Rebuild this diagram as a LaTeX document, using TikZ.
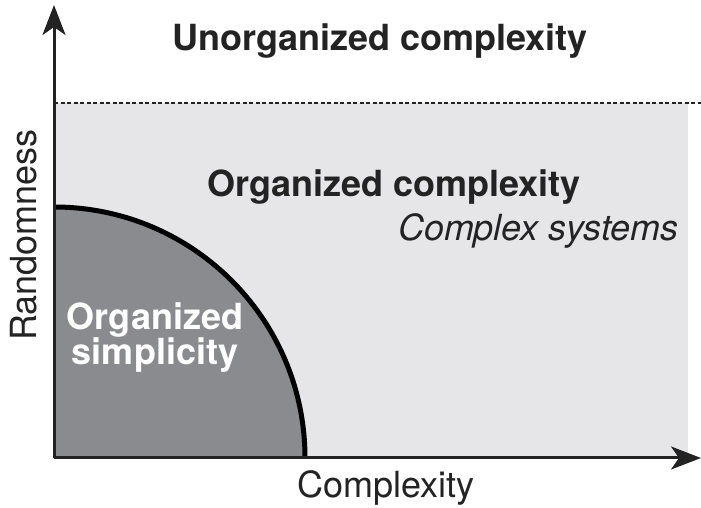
\documentclass[tikz,border=0pt]{standalone}
\usepackage{fontspec}
\setmainfont{TeX Gyre Heros}
\usepackage{xcolor}
\usetikzlibrary{arrows.meta}
\definecolor{lightregion}{HTML}{E6E6E8}
\definecolor{darkregion}{HTML}{8A8B8E}
\definecolor{inkgrey}{HTML}{232323}

\begin{document}
\begin{tikzpicture}[x=1pt,y=1pt,
    axis/.style={line width=3pt, inkgrey, -{Stealth[length=30pt,width=23pt,inset=8pt]}},
    boldlabel/.style={font=\fontsize{36}{40}\selectfont\bfseries, text=inkgrey},
    axislabel/.style={font=\fontsize{36}{40}\selectfont, text=inkgrey}]
    \useasboundingbox (0,0) rectangle (701,508);
    % regions
    \fill[lightregion] (54,50) rectangle (688,405);
    \fill[darkregion] (54,50) -- (54,301) arc (90:0:251) -- cycle;
    \draw[line width=5pt, black] (54,301) arc (90:0:251);
    \draw[line width=2pt, inkgrey, dash pattern=on 4pt off 2.5pt] (54,405) -- (701,405);
    % axes
    \coordinate (origin) at (54,50);
    \coordinate (ytip) at (54,503);
    \coordinate (xtip) at (701,50);
    \draw[axis] (origin) -- (ytip);
    \draw[axis] (origin) -- (xtip);
    \node[axislabel, rotate=90] (random) at (24,273) {Randomness};
    \node[axislabel] (cplx) at (386,20) {Complexity};
    % labels
    \node[boldlabel] (unorg) at (380,467) {Unorganized complexity};
    \node[boldlabel] (orgcplx) at (394,321) {Organized complexity};
    \node[axislabel, font=\fontsize{36}{40}\selectfont\itshape, anchor=east] (csys) at (682,277) {Complex systems};
    \node[boldlabel, text=white, align=center] (orgsimp) at (155,170) {Organized\\[-5pt]simplicity};
\end{tikzpicture}
\end{document}
